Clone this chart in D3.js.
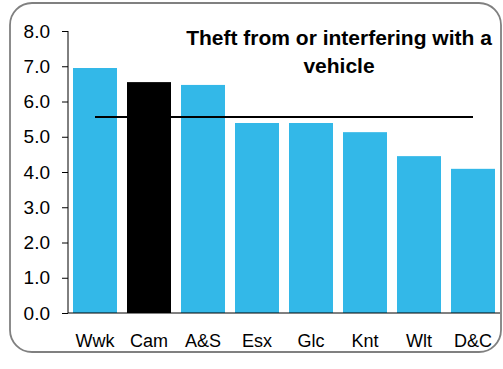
<!DOCTYPE html>
<html><head><meta charset="utf-8">
<script src="https://cdn.jsdelivr.net/npm/d3@7"></script>
<style>body{margin:0;background:#fff}svg{display:block;font-family:"Liberation Sans",Arial,sans-serif}</style>
</head><body>
<svg id="c" width="503" height="369"></svg>
<script>
const categories = ["Wwk","Cam","A&S","Esx","Glc","Knt","Wlt","D&C"];
const values = [6.95,6.55,6.47,5.39,5.39,5.13,4.45,4.09];
const highlight = ["Cam"];
const meanValue = 5.56;
const yTicks = [0,1,2,3,4,5,6,7,8];
const titleLines = ["Theft from or interfering with a","vehicle"];

const svg = d3.select("#c");
svg.append("rect").attr("x",10).attr("y",3).attr("width",491).attr("height",349)
  .attr("rx",22).attr("ry",22).attr("fill","#fff").attr("stroke","#808080").attr("stroke-width",1.8);

const x = d3.scaleBand().domain(categories).range([68,500]).paddingInner(10/54).paddingOuter(5/54);
const y = d3.scaleLinear().domain([0,8]).range([313,31]);

svg.selectAll("rect.bar").data(categories).enter().append("rect").attr("class","bar")
  .attr("x",d=>x(d)).attr("width",x.bandwidth())
  .attr("y",(d,i)=>y(values[i])).attr("height",(d,i)=>y(0)-y(values[i]))
  .attr("fill",d=>highlight.includes(d)?"#000":"#33b8e8");

const ya = svg.append("g").attr("transform","translate(68,0)")
  .call(d3.axisLeft(y).tickValues(yTicks).tickFormat(d3.format(".1f")).tickSize(6).tickPadding(12));
ya.select(".domain").attr("stroke","#000").attr("d","M0,313V31");
ya.selectAll(".tick line").attr("stroke","#000");
ya.selectAll("text").attr("font-size",19).attr("fill","#000").attr("font-family","Liberation Sans, Arial, sans-serif");

const xa = svg.append("g").attr("transform","translate(0,313)")
  .call(d3.axisBottom(x).tickSize(0).tickPadding(21));
xa.select(".domain").attr("stroke","#000").attr("d","M68,0H500");
xa.selectAll("text").attr("font-size",18).attr("fill","#000").attr("font-family","Liberation Sans, Arial, sans-serif");

const first = categories[0], last = categories[categories.length-1];
svg.append("line")
  .attr("x1",x(first)+x.bandwidth()/2).attr("x2",x(last)+x.bandwidth()/2)
  .attr("y1",y(meanValue)).attr("y2",y(meanValue))
  .attr("stroke","#000").attr("stroke-width",2);

svg.append("text").attr("x",339).attr("y",44.5).attr("text-anchor","middle")
  .attr("font-size",21).attr("font-weight","bold").attr("fill","#000")
  .selectAll("tspan").data(titleLines).enter().append("tspan")
  .attr("x",339).attr("dy",(d,i)=>i?28:0).text(d=>d);
</script>
</body></html>
